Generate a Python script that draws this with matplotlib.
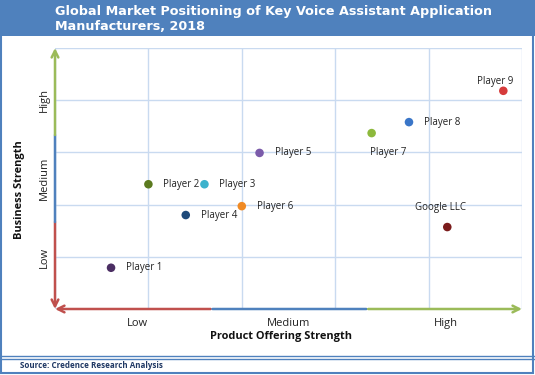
import matplotlib
matplotlib.use("Agg")
import matplotlib.pyplot as plt
from matplotlib.patches import Rectangle

# ---- data (grid units 0..5 on both axes) ----
players = ['Player 1', 'Player 2', 'Player 3', 'Player 4', 'Player 5',
           'Player 6', 'Player 7', 'Player 8', 'Player 9', 'Google LLC']
product_strength = [0.60, 1.00, 1.60, 1.40, 2.19, 2.00, 3.39, 3.79, 4.80, 4.20]
business_strength = [0.79, 2.39, 2.39, 1.80, 2.99, 1.97, 3.37, 3.58, 4.18, 1.57]
colors = ['#4B2E63', '#5B7A1F', '#3CB2CC', '#1F4A7A', '#7B5BAA',
          '#F08A24', '#8DB93C', '#3A76C8', '#D63B3B', '#7B1C1C']
# label offsets in pixels (dx, dy, ha)
label_pos = [(15, 0, 'left'), (15, 0, 'left'), (15, 0, 'left'), (15, 0, 'left'),
             (15, 0, 'left'), (15, 0, 'left'), (-2, -19, 'left'), (15, 0, 'left'),
             (-26, 9, 'left'), (-7, 20, 'center')]
levels = ['Low', 'Medium', 'High']
x_level_pos = [0.88, 2.5, 4.18]
y_level_pos = [0.98, 2.51, 4.0]

blue = '#4F81BD'

fig = plt.figure(figsize=(5.35, 3.75), dpi=100)

# title band and frame
fig.patches.append(Rectangle((0, 1 - 36 / 375), 1, 36 / 375, transform=fig.transFigure,
                             facecolor=blue, edgecolor='none', zorder=0))
fig.patches.append(Rectangle((1 / 535, 2 / 375), 532 / 535, 371 / 375, transform=fig.transFigure,
                             facecolor='none', edgecolor=blue, lw=1.5, zorder=5))
fig.lines.append(plt.Line2D([0, 1], [1 - 356 / 375] * 2, transform=fig.transFigure, color=blue, lw=1))
fig.lines.append(plt.Line2D([0, 1], [1 - 359 / 375] * 2, transform=fig.transFigure, color=blue, lw=1))

fig.text(55 / 535, 1 - 12 / 375, 'Global Market Positioning of Key Voice Assistant Application',
         color='white', fontsize=9.2, fontweight='bold', va='center', ha='left')
fig.text(55 / 535, 1 - 26 / 375, 'Manufacturers, 2018',
         color='white', fontsize=9.2, fontweight='bold', va='center', ha='left')
fig.text(20 / 535, 1 - 366 / 375, 'Source: Credence Research Analysis',
         color='#1F3864', fontsize=5.8, fontweight='bold', family='Open Sans',
         va='center', ha='left')

ax = fig.add_axes([55 / 535, 1 - 309 / 375, 467 / 535, 261 / 375])
ax.set_xlim(0, 5)
ax.set_ylim(0, 5)
ax.set_xticks(range(6))
ax.set_yticks(range(6))
ax.grid(color='#C9DAF0', lw=1)
ax.tick_params(length=0, labelbottom=False, labelleft=False)
for s in ax.spines.values():
    s.set_visible(False)

ax.scatter(product_strength, business_strength, s=38, c=colors, zorder=3,
           edgecolors='none')
for name, x, y, (dx, dy, ha) in zip(players, product_strength, business_strength, label_pos):
    ax.annotate(name, (x, y), xytext=(dx * 0.72, dy * 0.72), textcoords='offset points',
                ha=ha, va='center', fontsize=7, color='#222222', family='Open Sans')

# coloured axis arrows
third = 5 / 3
arr = dict(lw=1.8, mutation_scale=12, shrinkA=0, shrinkB=0)
ax.annotate('', xy=(0, 0), xytext=(third, 0), annotation_clip=False,
            arrowprops=dict(arrowstyle='->', color='#C0504D', **arr))
ax.annotate('', xy=(2 * third, 0), xytext=(third + 0.02, 0), annotation_clip=False,
            arrowprops=dict(arrowstyle='-', color=blue, **arr))
ax.annotate('', xy=(5, 0), xytext=(2 * third + 0.02, 0), annotation_clip=False,
            arrowprops=dict(arrowstyle='->', color='#9BBB59', **arr))
ax.annotate('', xy=(0, 0), xytext=(0, third), annotation_clip=False,
            arrowprops=dict(arrowstyle='->', color='#C0504D', **arr))
ax.annotate('', xy=(0, 2 * third), xytext=(0, third), annotation_clip=False,
            arrowprops=dict(arrowstyle='-', color=blue, **arr))
ax.annotate('', xy=(0, 5), xytext=(0, 2 * third), annotation_clip=False,
            arrowprops=dict(arrowstyle='->', color='#9BBB59', **arr))

for lv, xp, yp in zip(levels, x_level_pos, y_level_pos):
    ax.text(xp, -0.27, lv, ha='center', va='center', fontsize=8,
            family='Open Sans', color='#222222')
    ax.text(-0.11, yp, lv, ha='center', va='center',
            rotation=90, fontsize=8, family='Open Sans', color='#222222')

ax.text(2.42, -0.53, 'Product Offering Strength', ha='center', va='center', fontsize=7.9,
        fontweight='bold', family='Open Sans', color='#111111')
ax.text(-0.38, 2.28, 'Business Strength', ha='center', va='center', rotation=90,
        fontsize=7.9, fontweight='bold', family='Open Sans', color='#111111')

fig.savefig('out.png', dpi=100)
